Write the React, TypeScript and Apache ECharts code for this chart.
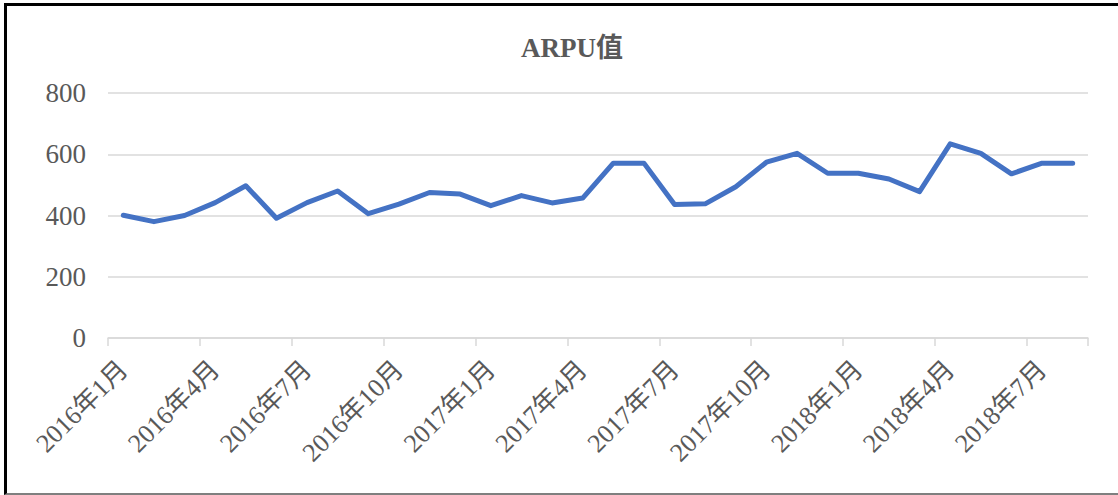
import React, { useEffect, useRef } from "react";
import * as echarts from "echarts";

const categories: string[] = [
  "2016年1月", "2016年2月", "2016年3月", "2016年4月", "2016年5月", "2016年6月",
  "2016年7月", "2016年8月", "2016年9月", "2016年10月", "2016年11月", "2016年12月",
  "2017年1月", "2017年2月", "2017年3月", "2017年4月", "2017年5月", "2017年6月",
  "2017年7月", "2017年8月", "2017年9月", "2017年10月", "2017年11月", "2017年12月",
  "2018年1月", "2018年2月", "2018年3月", "2018年4月", "2018年5月", "2018年6月",
  "2018年7月", "2018年8月",
];

const arpuValues: number[] = [
  401, 380, 400, 442, 497, 391, 442, 480, 406, 437, 475, 470,
  432, 465, 441, 457, 571, 571, 436, 438, 494, 574, 603, 538,
  538, 519, 478, 634, 603, 536, 571, 571,
];

const titleText = "ARPU值";
const yMin = 0;
const yMax = 800;
const yInterval = 200;

const serif = "'Liberation Serif', 'Times New Roman', 'Noto Sans CJK SC', serif";
const textColor = "#595959";

export default function App() {
  const ref = useRef<HTMLDivElement>(null);

  useEffect(() => {
    document.body.style.margin = "0";
    if (!ref.current) return;
    const chart = echarts.init(ref.current, undefined, { renderer: "svg" });
    chart.setOption({
      animation: false,
      backgroundColor: "#ffffff",
      title: {
        text: titleText,
        left: 516,
        top: 29,
        textStyle: {
          fontFamily: serif,
          fontSize: 27,
          fontWeight: "bold",
          color: textColor,
        },
      },
      grid: { left: 108, right: 30, top: 93, bottom: 157, containLabel: false },
      xAxis: {
        type: "category",
        data: categories,
        boundaryGap: true,
        axisLine: { show: true, lineStyle: { color: "#D9D9D9", width: 1.5 } },
        axisTick: { show: true, interval: 2, length: 8, lineStyle: { color: "#D9D9D9", width: 1.5 } },
        axisLabel: {
          interval: 2,
          rotate: 45,
          margin: 27,
          fontFamily: serif,
          fontSize: 26,
          color: textColor,
        },
        splitLine: { show: false },
      },
      yAxis: {
        type: "value",
        min: yMin,
        max: yMax,
        interval: yInterval,
        axisLine: { show: false },
        axisTick: { show: false },
        axisLabel: {
          margin: 22,
          fontFamily: serif,
          fontSize: 27,
          color: textColor,
        },
        splitLine: { show: true, lineStyle: { color: "#D9D9D9", width: 1.5 } },
      },
      series: [
        {
          type: "line",
          data: arpuValues,
          symbol: "none",
          lineStyle: { color: "#4472C4", width: 5, join: "round", cap: "round" },
          itemStyle: { color: "#4472C4" },
        },
      ],
    });
    return () => chart.dispose();
  }, []);

  return (
    <div style={{ position: "relative", width: 1118, height: 495, overflow: "hidden", background: "#fff" }}>
      <div ref={ref} style={{ position: "absolute", left: 0, top: 0, width: 1118, height: 495 }} />
      <div
        style={{
          position: "absolute",
          left: 4,
          top: 3,
          width: 1130,
          height: 487,
          borderTop: "3px solid #000",
          borderLeft: "3px solid #000",
          borderBottom: "2px solid #7f7f7f",
          pointerEvents: "none",
        }}
      />
    </div>
  );
}
